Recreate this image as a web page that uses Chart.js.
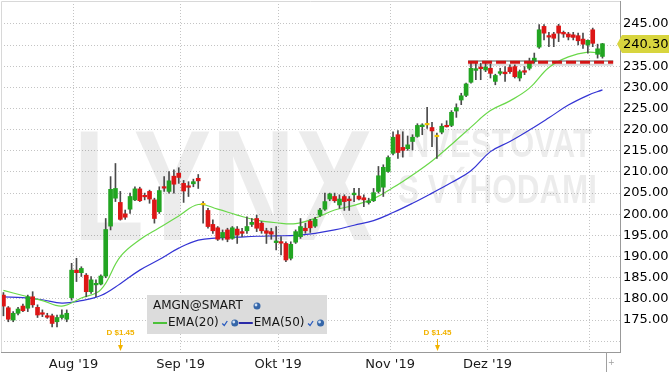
<!DOCTYPE html>
<html>
<head>
<meta charset="utf-8">
<script src="https://cdn.jsdelivr.net/npm/chart.js@4.4.1/dist/chart.umd.min.js"></script>
<style>
  html, body { margin: 0; padding: 0; background: #fff; }
  #wrap { width: 671px; height: 374px; position: relative; }
</style>
</head>
<body>
<div id="wrap"><canvas id="amgnChart"></canvas></div>
<script>
// daily candles, AMGN (Jul 2019 - Jan 2020)
const opens = [
  180.9, 177.9, 175.0, 176.6, 178.3, 177.8, 180.5, 178.0, 176.7, 176.0,
  176.0, 174.6, 175.6, 175.2, 180.3, 186.8, 186.2, 185.6, 181.7, 183.4,
  183.5, 185.4, 197.2, 203.8, 202.8, 200.1, 201.2, 203.4, 206.0, 204.4,
  205.4, 203.4, 200.6, 206.5, 205.4, 209.0, 209.7, 207.3, 206.7, 207.2,
  208.5, 202.4, 200.9, 197.6, 196.8, 194.5, 196.3, 194.3, 196.5, 195.9,
  196.1, 197.6, 199.0, 197.9, 196.1, 195.9, 193.3, 193.5, 193.1, 189.6,
  193.4, 194.7, 196.7, 198.4, 197.2, 199.8, 201.2, 203.6, 204.2, 202.2,
  204.2, 203.6, 204.6, 204.3, 203.9, 202.8, 203.2, 205.4, 206.4, 210.1,
  214.4, 218.8, 215.8, 215.5, 217.2, 218.4, 220.7, 221.3, 220.5, 218.5,
  219.4, 221.0, 221.0, 224.4, 227.0, 228.1, 231.2, 234.0, 234.8, 234.1,
  234.5, 231.4, 233.3, 233.6, 234.7, 234.9, 232.2, 233.9, 234.5, 236.1,
  239.5, 244.4, 242.2, 242.6, 244.5, 243.0, 242.6, 242.4, 242.2, 241.4,
  240.0, 243.6, 237.8, 237.3
];
const highs = [
  181.5, 178.2, 177.0, 178.0, 178.8, 180.9, 181.7, 178.6, 177.4, 176.6,
  176.4, 176.2, 177.4, 177.4, 188.4, 189.6, 187.6, 186.0, 185.3, 184.5,
  185.7, 199.0, 208.9, 212.0, 205.4, 201.0, 205.0, 206.5, 206.4, 205.0,
  205.7, 203.8, 206.5, 208.9, 210.1, 210.5, 211.0, 208.0, 207.7, 208.3,
  209.4, 203.0, 201.4, 198.7, 197.1, 196.3, 196.7, 197.1, 197.1, 196.7,
  199.4, 199.0, 199.8, 198.3, 196.7, 196.7, 197.1, 194.7, 193.5, 193.5,
  196.3, 199.0, 197.9, 198.8, 199.3, 201.4, 205.0, 205.0, 205.0, 204.6,
  204.6, 204.2, 206.1, 206.1, 204.6, 203.8, 206.1, 211.3, 211.7, 213.8,
  219.5, 219.8, 219.5, 218.5, 218.8, 221.4, 221.4, 225.3, 221.7, 219.2,
  221.4, 222.1, 224.5, 226.1, 228.6, 231.0, 236.1, 235.7, 235.7, 235.7,
  235.5, 233.1, 234.5, 234.9, 235.3, 235.3, 234.1, 234.9, 236.9, 238.1,
  244.8, 244.8, 243.0, 243.0, 244.9, 243.3, 243.0, 243.0, 242.8, 242.8,
  241.2, 244.0, 240.2, 240.4
];
const lows = [
  176.0, 174.6, 174.6, 176.2, 177.0, 177.0, 178.0, 175.6, 175.8, 175.4,
  173.4, 173.4, 175.2, 174.6, 179.7, 184.1, 185.3, 180.5, 181.3, 180.5,
  183.3, 185.0, 196.3, 203.0, 198.6, 198.8, 200.2, 203.2, 203.0, 203.4,
  202.6, 197.9, 200.2, 205.4, 205.0, 205.0, 207.3, 202.8, 204.2, 206.5,
  206.1, 197.9, 196.7, 195.5, 193.8, 193.9, 193.5, 194.1, 193.1, 194.7,
  195.5, 197.1, 195.9, 195.5, 193.1, 194.1, 191.6, 190.4, 188.8, 189.2,
  193.1, 194.3, 195.5, 195.7, 196.9, 199.5, 200.9, 203.2, 202.8, 201.4,
  200.9, 200.9, 203.0, 203.4, 201.8, 202.4, 203.0, 205.0, 204.2, 209.9,
  214.0, 213.2, 213.5, 215.1, 215.2, 218.2, 218.8, 220.3, 216.0, 213.2,
  219.0, 220.6, 220.7, 222.9, 225.9, 227.8, 231.0, 231.8, 231.8, 233.7,
  232.2, 230.6, 232.9, 231.4, 233.3, 232.2, 231.5, 233.0, 234.1, 235.7,
  239.2, 241.2, 239.6, 239.6, 240.8, 241.8, 241.2, 241.2, 240.0, 239.2,
  238.1, 239.6, 236.9, 236.9
];
const closes = [
  178.3, 175.2, 176.6, 177.6, 177.2, 180.5, 178.6, 176.2, 176.4, 175.7,
  174.2, 175.6, 176.2, 176.6, 186.8, 186.2, 187.2, 181.7, 184.5, 183.6,
  185.4, 196.4, 205.9, 206.1, 198.8, 199.3, 204.2, 206.0, 203.2, 204.2,
  203.6, 199.0, 205.6, 206.2, 207.9, 207.1, 208.7, 205.5, 206.4, 207.7,
  207.9, 202.4, 197.1, 196.1, 194.1, 195.7, 194.1, 196.8, 195.1, 195.5,
  197.1, 198.1, 196.7, 196.1, 195.5, 195.3, 193.7, 193.2, 189.2, 192.9,
  195.9, 197.1, 196.1, 196.8, 198.8, 201.0, 203.0, 204.8, 203.2, 203.6,
  203.0, 203.2, 205.0, 203.6, 203.4, 203.1, 205.1, 209.1, 211.1, 213.4,
  218.2, 214.6, 215.1, 216.4, 218.2, 221.0, 221.1, 221.3, 219.7, 218.5,
  220.8, 220.7, 224.1, 225.2, 228.0, 230.8, 234.5, 234.4, 234.4, 234.8,
  233.3, 232.8, 233.7, 233.2, 233.7, 232.5, 233.7, 233.6, 235.7, 236.9,
  243.6, 242.8, 241.9, 241.6, 242.8, 242.6, 241.9, 241.8, 241.0, 240.2,
  241.1, 240.4, 239.1, 240.3
];

// moving averages, read at every 4th candle
const emaIdx = [0, 4, 8, 12, 16, 20, 24, 28, 32, 36, 40, 44, 48, 52, 56, 60,
  64, 68, 72, 76, 80, 84, 88, 92, 96, 100, 104, 108, 112, 116, 120, 123];
const ema20 = [182.0, 180.8, 179.6, 178.3, 180.2, 182.2, 190.0, 194.0, 196.8, 199.6,
  202.3, 201.2, 199.8, 198.6, 198.0, 197.8, 199.1, 201.0, 202.1, 203.7,
  206.3, 209.3, 212.6, 216.5, 220.6, 224.5, 226.8, 229.8, 234.7, 237.2, 238.3, 238.0];
const ema50 = [180.5, 180.3, 179.8, 179.0, 179.6, 180.8, 183.6, 186.8, 189.3, 192.0,
  193.9, 194.4, 194.6, 194.8, 194.9, 195.0, 195.5, 196.3, 197.4, 198.5,
  200.4, 202.6, 205.0, 207.5, 210.3, 214.8, 217.2, 219.9, 222.8, 225.8, 228.1, 229.4];

// first trading day of each month (candle index)
const monthStart = [14, 36, 56, 79, 99, 120];
const monthLabels = ["Aug '19", "Sep '19", "Okt '19", "Nov '19", "Dez '19", ""];

const dividendIdx = [24, 89];
const dividendText = ['D $1.45', 'D $1.45'];

const resistanceSpan = [95.4, 125.2];
const resistanceLevel = 235.9;

const symbolName = 'AMGN@SMART';
const emaNames = ['EMA(20)', 'EMA(50)'];

const GREEN = '#22a522';
const RED = '#dd1616';
const DOJI = '#efc400';

const bodies = [], wicks = [], bodyColors = [];
for (let i = 0; i < opens.length; i++) {
    let lo = Math.min(opens[i], closes[i]);
    let hi = Math.max(opens[i], closes[i]);
    if (hi - lo < 0.35) { // keep tiny bodies visible
        const mid = (hi + lo) / 2;
        lo = mid - 0.18; hi = mid + 0.18;
    }
    bodies.push({ x: i, y: [lo, hi] });
    wicks.push({ x: i, y: [lows[i], highs[i]] });
    bodyColors.push(closes[i] > opens[i] ? GREEN : (closes[i] < opens[i] ? RED : DOJI));
}

function drawStretched(ctx, text, font, left, right, baseline) {
    ctx.font = font;
    const w = ctx.measureText(text).width;
    ctx.save();
    ctx.translate(left, baseline);
    ctx.scale((right - left) / w, 1);
    ctx.fillText(text, 0, 0);
    ctx.restore();
}

const watermark = {
    id: 'watermark',
    beforeDatasetsDraw(chart) {
        const ctx = chart.ctx;
        ctx.save();
        ctx.fillStyle = 'rgba(0,0,0,0.075)';
        ctx.textBaseline = 'alphabetic';
        drawStretched(ctx, 'LYNX', 'bold 158px "Liberation Sans"', 73, 373, 240);
        drawStretched(ctx, 'INVESTOVAT', 'bold 40px "Liberation Sans"', 398, 592, 157);
        drawStretched(ctx, 'S VÝHODAMI', 'bold 40px "Liberation Sans"', 398, 597, 203);
        ctx.restore();
    }
};

function globe(ctx, x, y) {
    ctx.beginPath();
    ctx.arc(x, y, 3.5, 0, Math.PI * 2);
    ctx.fillStyle = '#3566a8';
    ctx.fill();
    ctx.beginPath();
    ctx.arc(x - 1, y - 1, 1.4, 0, Math.PI * 2);
    ctx.fillStyle = '#cfe0f5';
    ctx.fill();
}

function check(ctx, x, y) {
    ctx.beginPath();
    ctx.moveTo(x - 2.5, y);
    ctx.lineTo(x - 0.5, y + 2);
    ctx.lineTo(x + 2.5, y - 2.5);
    ctx.strokeStyle = '#2a5cc0';
    ctx.lineWidth = 1.3;
    ctx.stroke();
}

const overlays = {
    id: 'overlays',
    afterDraw(chart) {
        const ctx = chart.ctx;
        const area = chart.chartArea;
        const xs = chart.scales.x, ys = chart.scales.y;
        ctx.save();

        // light frame on left / top
        ctx.strokeStyle = '#d8d8d8';
        ctx.lineWidth = 1;
        ctx.beginPath();
        ctx.moveTo(area.left + 0.5, area.bottom);
        ctx.lineTo(area.left + 0.5, area.top + 0.5);
        ctx.lineTo(area.right, area.top + 0.5);
        ctx.stroke();

        // legend box
        ctx.fillStyle = '#dcdcdc';
        ctx.fillRect(147, 295, 180, 39);
        ctx.textBaseline = 'middle';
        ctx.font = '12px "DejaVu Sans"';
        ctx.fillStyle = '#151515';
        ctx.fillText(symbolName, 153, 306);
        globe(ctx, 257, 306);

        let cx = 153;
        const rowY = 323;
        const lineCols = ['#4cc23a', '#2a2aa8'];
        emaNames.forEach((name, k) => {
            ctx.strokeStyle = lineCols[k];
            ctx.lineWidth = 2;
            ctx.beginPath();
            ctx.moveTo(cx, rowY); ctx.lineTo(cx + 14, rowY);
            ctx.stroke();
            cx += 15;
            ctx.fillStyle = '#151515';
            ctx.fillText(name, cx, rowY);
            cx += ctx.measureText(name).width + 6;
            check(ctx, cx, rowY + 0.5);
            cx += 10;
            globe(ctx, cx, rowY);
            cx += 4;
        });

        // dividend markers
        ctx.fillStyle = '#f2b300';
        ctx.strokeStyle = '#f2b300';
        ctx.font = 'bold 8px "Liberation Sans"';
        ctx.textAlign = 'center';
        dividendIdx.forEach((idx, k) => {
            const px = Math.round(xs.getPixelForValue(idx)) + 0.5;
            ctx.fillText(dividendText[k], px, 333);
            ctx.lineWidth = 1;
            ctx.beginPath();
            ctx.moveTo(px, 339); ctx.lineTo(px, 350);
            ctx.stroke();
            ctx.beginPath();
            ctx.moveTo(px - 2.5, 345); ctx.lineTo(px, 351); ctx.lineTo(px + 2.5, 345);
            ctx.closePath();
            ctx.fill();
        });

        // last price tag
        const last = closes[closes.length - 1];
        const py = Math.round(ys.getPixelForValue(last));
        ctx.fillStyle = '#d8d53e';
        ctx.beginPath();
        ctx.moveTo(area.right - 3, py);
        ctx.lineTo(area.right + 2, py - 9);
        ctx.lineTo(669, py - 9);
        ctx.lineTo(669, py + 9);
        ctx.lineTo(area.right + 2, py + 9);
        ctx.closePath();
        ctx.fill();
        ctx.fillStyle = '#000';
        ctx.font = '13px "DejaVu Sans"';
        ctx.textAlign = 'left';
        ctx.fillText(last.toFixed(2), area.right + 3, py + 1);

        // small marker below the last bar
        ctx.strokeStyle = '#a0a0a0';
        ctx.beginPath();
        ctx.moveTo(606.5, area.bottom); ctx.lineTo(606.5, 372);
        ctx.stroke();
        ctx.fillStyle = '#a0a0a0';
        ctx.font = '8px "DejaVu Sans"';
        ctx.fillText('+', 608, 363);

        ctx.restore();
    }
};

const ctx = document.getElementById('amgnChart').getContext('2d');
new Chart(ctx, {
    data: {
        datasets: [
            {
                type: 'line',
                label: 'resistance',
                data: resistanceSpan.map(x => ({ x: x, y: resistanceLevel })),
                borderColor: '#d41414',
                borderWidth: 3,
                borderDash: [10, 4],
                pointRadius: 0,
                order: -2
            },
            {
                type: 'line',
                label: 'resistance edge',
                data: resistanceSpan.map(x => ({ x: x, y: resistanceLevel + 0.32 })),
                borderColor: '#555',
                borderWidth: 1,
                pointRadius: 0,
                order: -1
            },
            {
                type: 'line',
                label: 'resistance shadow',
                data: resistanceSpan.map(x => ({ x: x, y: resistanceLevel - 0.55 })),
                borderColor: 'rgba(0,0,0,0.15)',
                borderWidth: 2,
                pointRadius: 0,
                order: 5
            },
            {
                type: 'bar',
                label: 'body',
                data: bodies,
                backgroundColor: bodyColors,
                barThickness: 4,
                grouped: false,
                order: 0
            },
            {
                type: 'bar',
                label: 'wick',
                data: wicks,
                backgroundColor: '#4a4a4a',
                barThickness: 1,
                grouped: false,
                order: 1
            },
            {
                type: 'line',
                label: emaNames[0],
                data: emaIdx.map((x, k) => ({ x: x, y: ema20[k] })),
                borderColor: '#6ad84a',
                borderWidth: 1.2,
                pointRadius: 0,
                tension: 0.4,
                order: 3
            },
            {
                type: 'line',
                label: emaNames[1],
                data: emaIdx.map((x, k) => ({ x: x, y: ema50[k] })),
                borderColor: '#3434d4',
                borderWidth: 1.2,
                pointRadius: 0,
                tension: 0.4,
                order: 4
            }
        ]
    },
    options: {
        responsive: true,
        maintainAspectRatio: false,
        animation: false,
        events: [],
        layout: { autoPadding: false, padding: { top: 1, left: 1, right: 0, bottom: 0 } },
        plugins: {
            legend: { display: false },
            tooltip: { enabled: false }
        },
        scales: {
            x: {
                type: 'linear',
                offset: false,
                min: -0.5,
                max: 126.6,
                afterBuildTicks: s => { s.ticks = monthStart.map(v => ({ value: v + 0.4 })); },
                afterFit: s => { s.height = 22; s.paddingLeft = 0; s.paddingRight = 0; },
                grid: { color: '#c4c4c4', drawTicks: false, offset: false },
                border: { color: '#999', dash: [1, 2] },
                ticks: {
                    autoSkip: false,
                    maxRotation: 0,
                    padding: 5,
                    color: '#1a1a1a',
                    font: { family: 'DejaVu Sans', size: 13 },
                    callback: (v, i) => monthLabels[i]
                }
            },
            y: {
                position: 'right',
                min: 167.45,
                max: 250.4,
                afterBuildTicks: s => {
                    const t = [];
                    for (let v = 170; v <= 245; v += 5) t.push({ value: v });
                    s.ticks = t;
                },
                afterFit: s => { s.width = 51; s.paddingTop = 0; s.paddingBottom = 0; },
                grid: { color: '#c4c4c4', drawTicks: false },
                border: { color: '#999', dash: [1, 2] },
                ticks: {
                    padding: 3,
                    color: '#000',
                    font: { family: 'DejaVu Sans', size: 13 },
                    callback: v => (v === 170 ? '' : v.toFixed(2))
                }
            }
        }
    },
    plugins: [watermark, overlays]
});
</script>
</body>
</html>
